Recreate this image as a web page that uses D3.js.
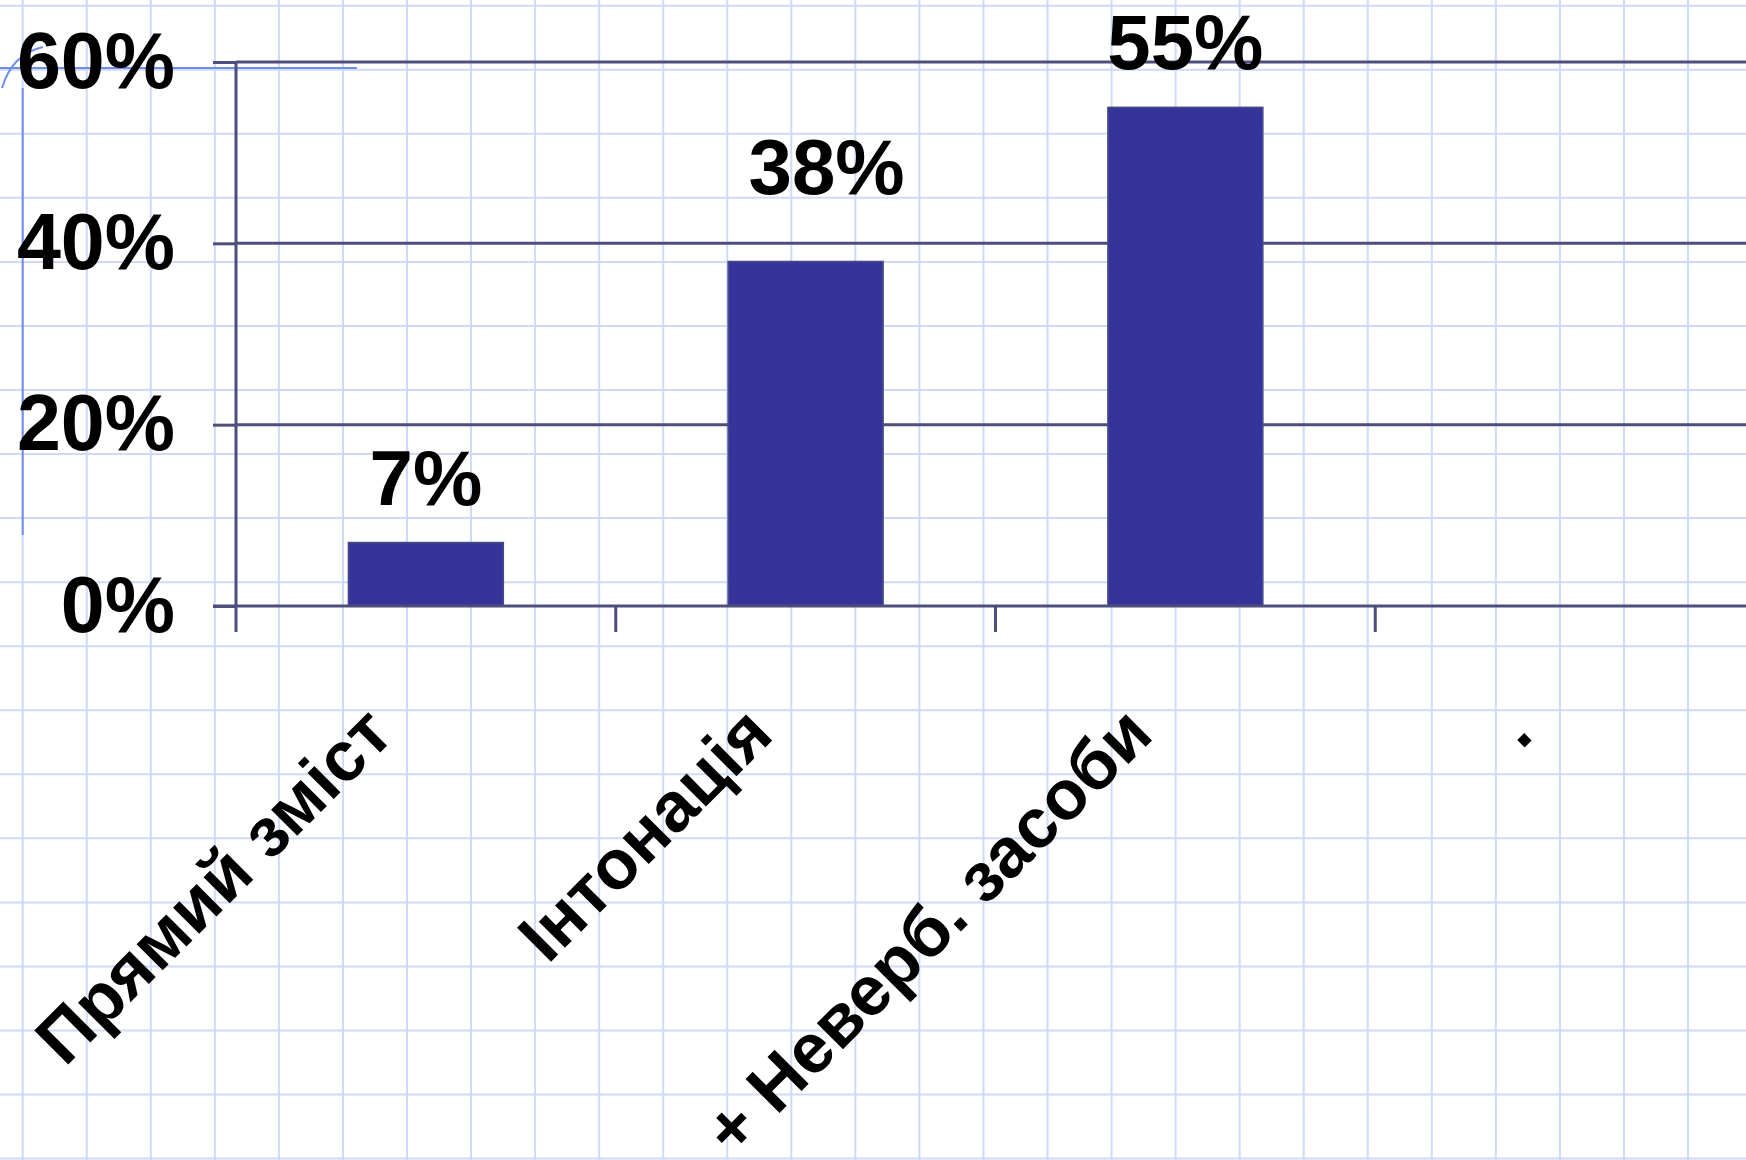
<!DOCTYPE html>
<html>
<head>
<meta charset="utf-8">
<script src="https://cdn.jsdelivr.net/npm/d3@7"></script>
<style>
  body { margin: 0; background: #fff; }
  svg { display: block; }
</style>
</head>
<body>
<div id="chart"></div>
<script>
// chart data
const categories = ['Прямий зміст', 'Інтонація', '+ Неверб. засоби', '.'];
const values = [0.07, 0.38, 0.55];
const yTicks = [0, 0.2, 0.4, 0.6];

const width = 1746;
const height = 1160;
const plotLeft = 236;
const plotRight = 1755;
const plotTop = 62;
const zeroY = 606;

const svg = d3.select('#chart')
              .append('svg')
              .attr('width', width)
              .attr('height', height);

// graph paper background
const paper = svg.append('g').attr('class', 'paper');
const step = 64.05;
paper.selectAll('line.v')
     .data(d3.range(22.7, width, step))
     .enter()
     .append('line')
     .attr('class', 'v')
     .attr('x1', d => d).attr('x2', d => d)
     .attr('y1', 0).attr('y2', height)
     .attr('stroke', '#cfdaf8')
     .attr('stroke-width', 2);
paper.selectAll('line.h')
     .data(d3.range(5.7, height, step))
     .enter()
     .append('line')
     .attr('class', 'h')
     .attr('x1', 0).attr('x2', width)
     .attr('y1', d => d).attr('y2', d => d)
     .attr('stroke', '#cfdaf8')
     .attr('stroke-width', 2);

// hand drawn pen marks in the corner
paper.append('line')
     .attr('x1', 0).attr('x2', 357).attr('y1', 68).attr('y2', 68)
     .attr('stroke', '#6f8df0').attr('stroke-width', 2);
paper.append('line')
     .attr('x1', 22.7).attr('x2', 22.7).attr('y1', 88).attr('y2', 535)
     .attr('stroke', '#6f8df0').attr('stroke-width', 2);
paper.append('path')
     .attr('d', 'M2,88 Q12,54 43,47')
     .attr('fill', 'none')
     .attr('stroke', '#6f8df0').attr('stroke-width', 2);

// scales
const y = d3.scaleLinear().domain([0, 0.6]).range([zeroY, plotTop]);
const xTick = d3.scaleBand().domain(categories).range([plotLeft, plotRight]);
const xBar = d3.scaleBand().domain(categories).range([plotLeft, plotRight])
               .paddingInner(0.592).paddingOuter(0.296);

const lineColor = '#4e4e7c';
const numFont = '"Liberation Sans", Arial, sans-serif';

// horizontal grid lines
svg.append('g')
   .selectAll('line')
   .data(yTicks.filter(d => d > 0))
   .enter()
   .append('line')
   .attr('x1', plotLeft).attr('x2', width)
   .attr('y1', d => y(d)).attr('y2', d => y(d))
   .attr('stroke', lineColor)
   .attr('stroke-width', 3);

// y axis
const yAxis = d3.axisLeft(y)
                .tickValues(yTicks)
                .tickFormat(d3.format('.0%'))
                .tickSize(23)
                .tickPadding(38);
const gy = svg.append('g')
              .attr('transform', `translate(${plotLeft},0)`)
              .call(yAxis);
gy.select('.domain').remove();
gy.append('line')
  .attr('x1', 0).attr('x2', 0).attr('y1', plotTop).attr('y2', zeroY + 26)
  .attr('stroke', lineColor).attr('stroke-width', 3);
gy.selectAll('.tick line').attr('stroke', lineColor).attr('stroke-width', 3);
gy.selectAll('.tick text')
  .attr('fill', '#000')
  .style('font-family', numFont)
  .style('font-weight', 'bold')
  .style('font-size', '79px');

// bars
svg.append('g')
   .selectAll('rect')
   .data(values)
   .enter()
   .append('rect')
   .attr('x', (d, i) => xBar(categories[i]))
   .attr('y', d => y(d))
   .attr('width', xBar.bandwidth())
   .attr('height', d => zeroY - y(d))
   .attr('fill', '#34349a')
   .attr('stroke', '#4a4a86')
   .attr('stroke-width', 1.5);

// x axis line and ticks
svg.append('line')
   .attr('x1', plotLeft - 23).attr('x2', width)
   .attr('y1', zeroY).attr('y2', zeroY)
   .attr('stroke', lineColor).attr('stroke-width', 3);
svg.append('g')
   .selectAll('line')
   .data(categories.slice(1))
   .enter()
   .append('line')
   .attr('x1', d => xTick(d)).attr('x2', d => xTick(d))
   .attr('y1', zeroY).attr('y2', zeroY + 26)
   .attr('stroke', lineColor).attr('stroke-width', 3);

// value labels (the 38% label was dragged up a little in the original)
const moved = { 1: [21, -29] };
svg.append('g')
   .selectAll('text')
   .data(values)
   .enter()
   .append('text')
   .attr('x', (d, i) => xBar(categories[i]) + xBar.bandwidth() / 2 + (moved[i] ? moved[i][0] : 0))
   .attr('y', (d, i) => y(d) - 38 + (moved[i] ? moved[i][1] : 0))
   .attr('text-anchor', 'middle')
   .style('font-family', numFont)
   .style('font-weight', 'bold')
   .style('font-size', '78px')
   .text(d => d3.format('.0%')(d));

// category labels, rotated
svg.append('g')
   .selectAll('text')
   .data(categories)
   .enter()
   .append('text')
   .attr('transform', d => `translate(${xTick(d) + xTick.bandwidth() / 2 - 30},${zeroY + 131}) rotate(-45)`)
   .attr('text-anchor', 'end')
   .style('font-family', numFont)
   .style('font-weight', 'bold')
   .style('font-size', '70px')
   .text(d => d);
</script>
</body>
</html>
